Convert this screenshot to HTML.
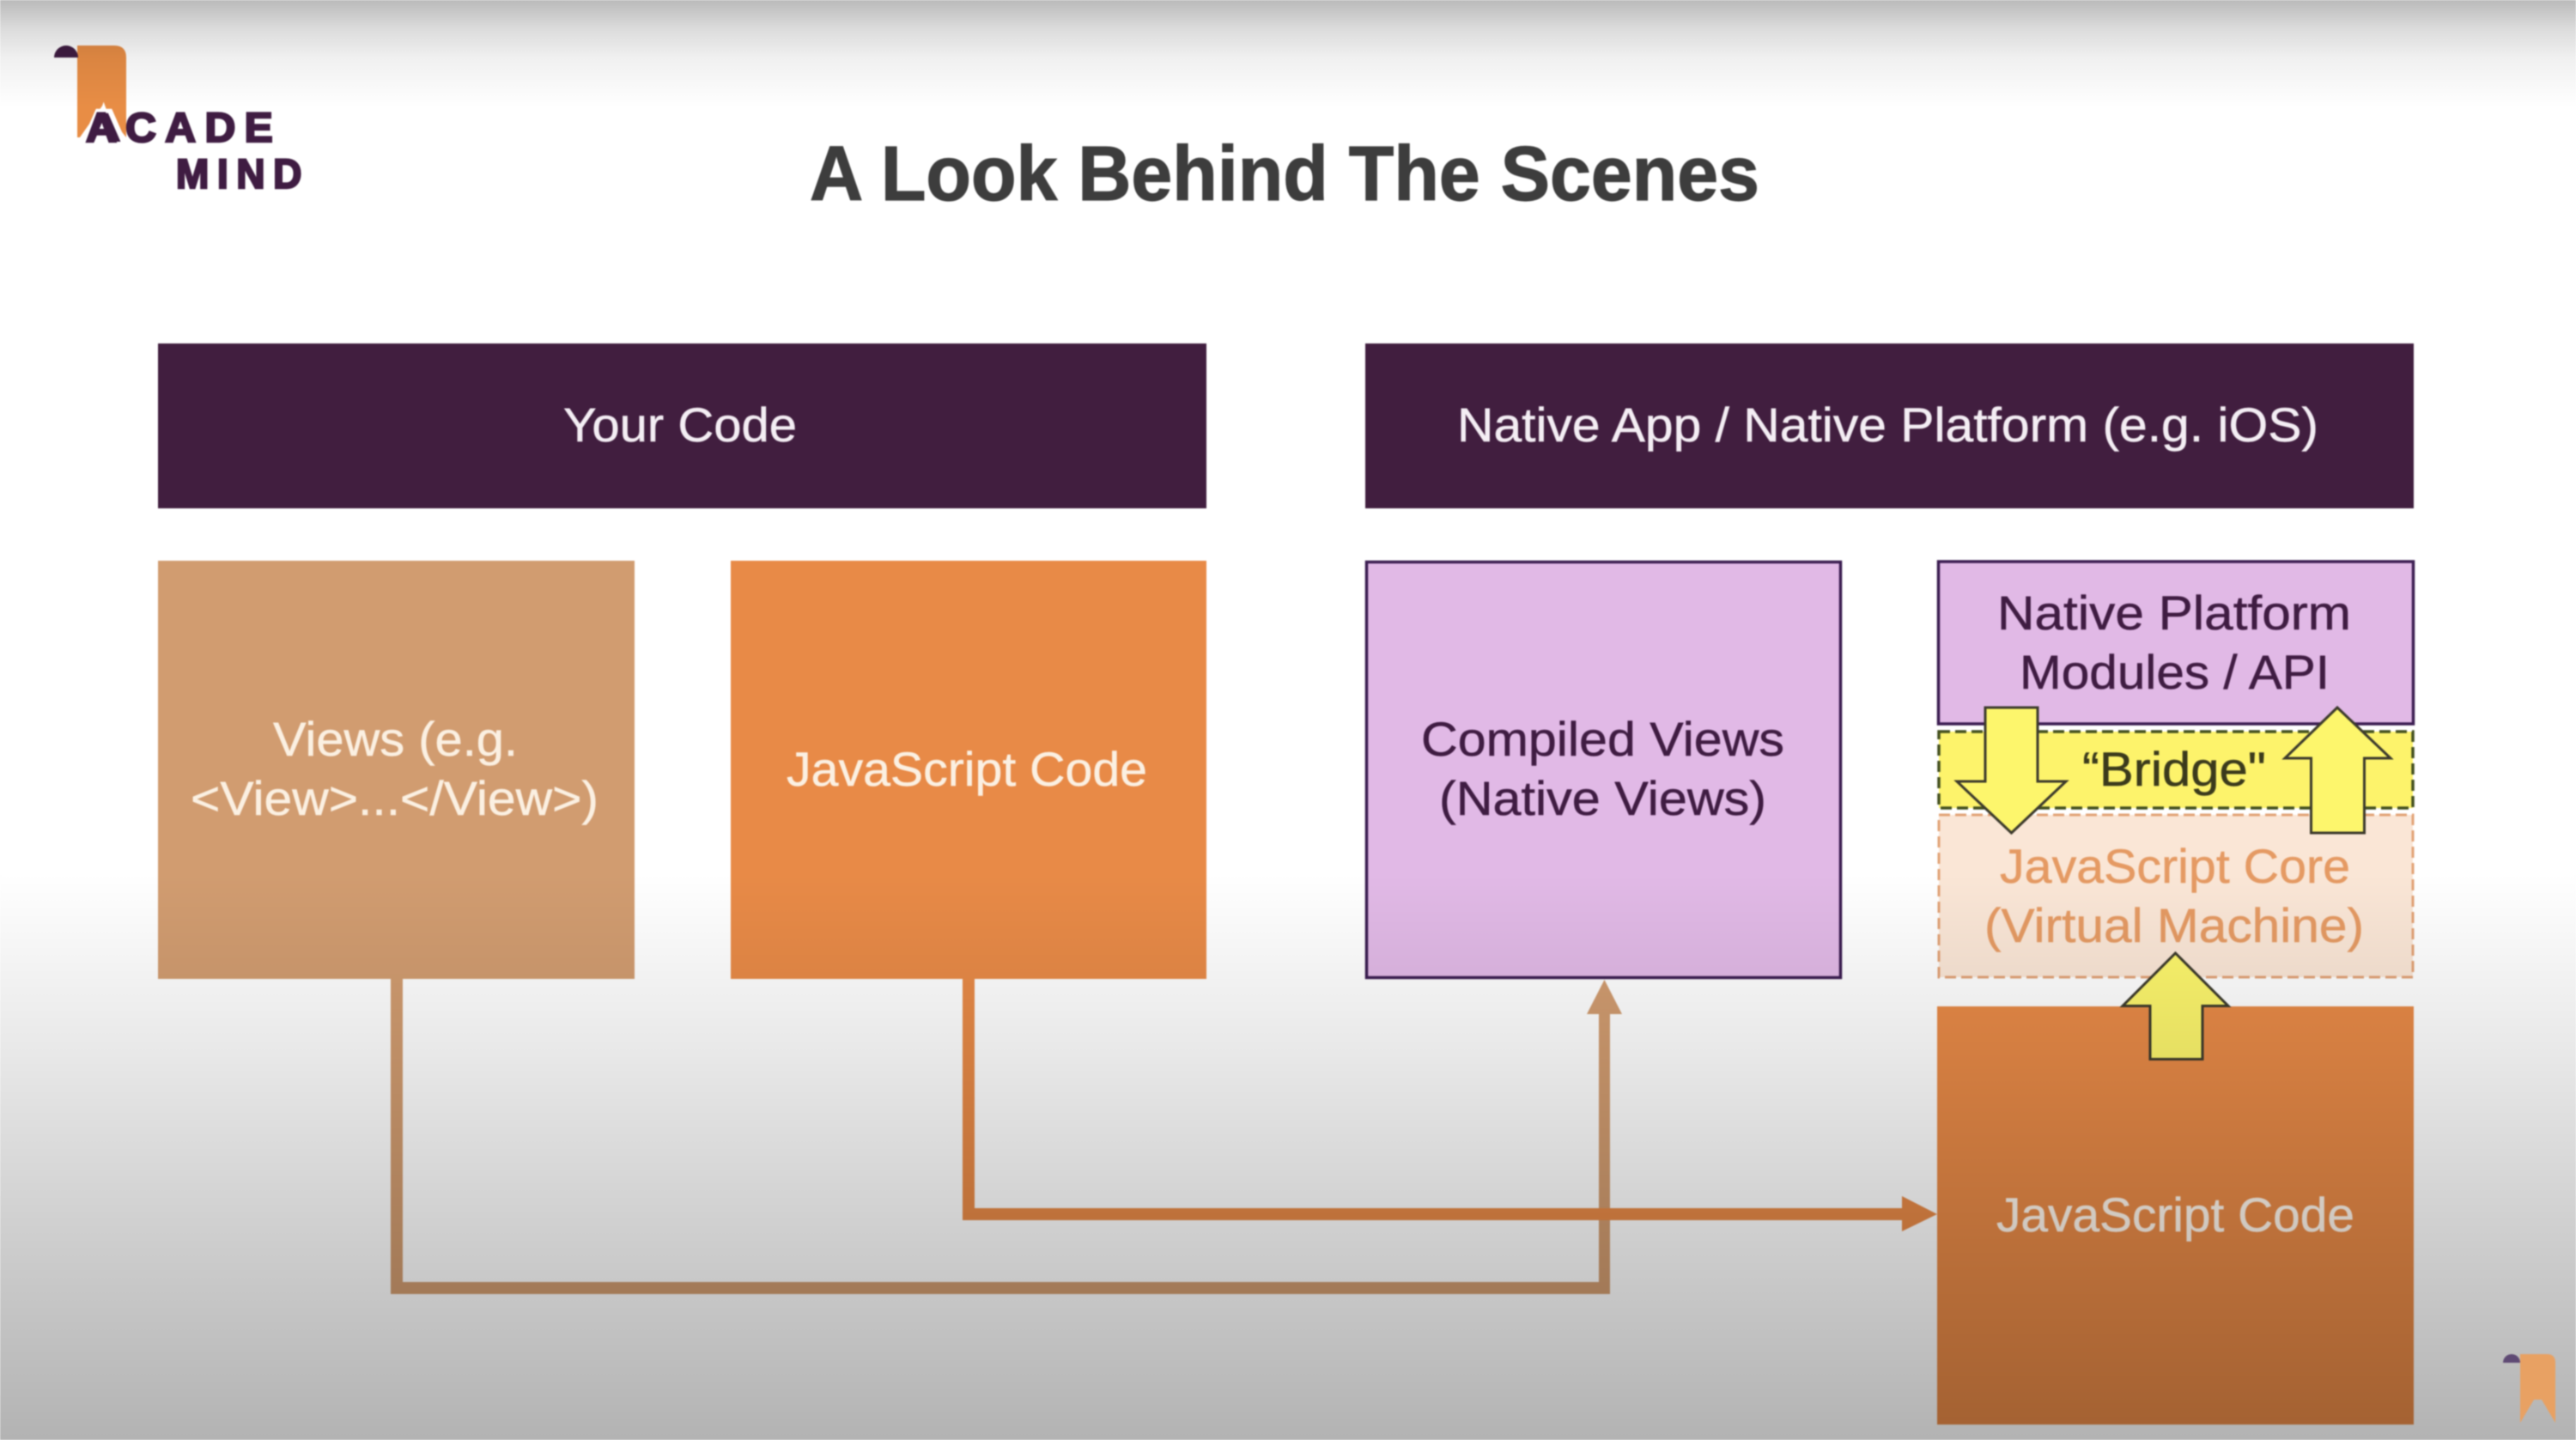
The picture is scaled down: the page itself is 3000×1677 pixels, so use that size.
<!DOCTYPE html>
<html><head><meta charset="utf-8"><title>A Look Behind The Scenes</title>
<style>
html,body{margin:0;padding:0;background:#fff;width:3000px;height:1677px;overflow:hidden}
svg{display:block;filter:blur(.7px)}
text{font-family:"Liberation Sans",sans-serif;font-size:56px;text-anchor:start;stroke-width:.5px;stroke:currentColor}
</style></head><body>
<svg xmlns="http://www.w3.org/2000/svg" width="3000" height="1677" viewBox="0 0 3000 1677">
<defs>
<linearGradient id="ov" x1="0" y1="0" x2="0" y2="1677" gradientUnits="userSpaceOnUse">
<stop offset="0" stop-color="#000" stop-opacity=".27"/>
<stop offset=".02" stop-color="#000" stop-opacity=".14"/>
<stop offset=".04" stop-color="#000" stop-opacity=".06"/>
<stop offset=".075" stop-color="#000" stop-opacity="0"/>
<stop offset=".605" stop-color="#000" stop-opacity="0"/>
<stop offset=".73" stop-color="#000" stop-opacity=".09"/>
<stop offset=".855" stop-color="#000" stop-opacity=".19"/>
<stop offset="1" stop-color="#000" stop-opacity=".3"/>
</linearGradient>
</defs>
<rect width="3000" height="1677" fill="#fff"/>

<!-- logo -->
<path d="M90 53H133Q147 53 147 67V160L139 150L120 122L100 150L93 160L90 160Z" fill="#e88d45"/>
<path d="M63 67A14 14 0 0 1 91 67Z" fill="#3f1c42"/>
<text x="100" y="165" textLength="42" lengthAdjust="spacingAndGlyphs" style="font-size:48px;font-weight:bold;stroke:#fff;stroke-width:10px;paint-order:stroke;color:#3f1c42" fill="#3f1c42">A</text>
<text x="100" y="165" textLength="228" lengthAdjust="spacingAndGlyphs" style="font-size:48px;font-weight:bold;letter-spacing:10px;stroke:#3f1c42;stroke-width:2.5px" fill="#3f1c42">ACADE</text>
<text x="205" y="219" textLength="156" lengthAdjust="spacingAndGlyphs" style="font-size:48px;font-weight:bold;letter-spacing:10px;stroke:#3f1c42;stroke-width:2.5px" fill="#3f1c42">MIND</text>

<!-- title -->
<text x="943" y="233" textLength="1106" lengthAdjust="spacingAndGlyphs" style="font-size:90px;font-weight:bold;stroke:#3d3d3d;stroke-width:1.2px" fill="#3d3d3d">A Look Behind The Scenes</text>

<!-- headers -->
<rect x="184" y="400" width="1221" height="192" fill="#411e3f"/>
<rect x="1590" y="400" width="1221" height="192" fill="#411e3f"/>
<text x="656" y="514" textLength="272" lengthAdjust="spacingAndGlyphs" fill="#f4eef4" color="#f4eef4">Your Code</text>
<text x="1697" y="514" textLength="1003" lengthAdjust="spacingAndGlyphs" fill="#f4eef4" color="#f4eef4">Native App / Native Platform (e.g. iOS)</text>

<!-- left boxes -->
<rect x="184" y="653" width="555" height="487" fill="#d19c70"/>
<rect x="851" y="653" width="554" height="487" fill="#e88a47"/>
<text x="318" y="880" textLength="285" lengthAdjust="spacingAndGlyphs" fill="#fbf0e2" color="#fbf0e2">Views (e.g.</text>
<text x="222" y="949" textLength="475" lengthAdjust="spacingAndGlyphs" fill="#fbf0e2" color="#fbf0e2">&lt;View&gt;...&lt;/View&gt;)</text>
<text x="916" y="915" textLength="420" lengthAdjust="spacingAndGlyphs" fill="#fbf0e2" color="#fbf0e2">JavaScript Code</text>

<!-- compiled -->
<rect x="1591.5" y="654.5" width="552" height="484" fill="#e1b9e6" stroke="#3c1e52" stroke-width="3.5"/>
<text x="1655" y="880" textLength="423" lengthAdjust="spacingAndGlyphs" fill="#3f1c42" color="#3f1c42">Compiled Views</text>
<text x="1676" y="949" textLength="381" lengthAdjust="spacingAndGlyphs" fill="#3f1c42" color="#3f1c42">(Native Views)</text>

<!-- right stack -->
<rect x="2257.5" y="654" width="553" height="189" fill="#e1b9e6" stroke="#3c1e52" stroke-width="3.5"/>
<rect x="2258" y="852" width="552" height="89" fill="#fdf36b" stroke="#44501f" stroke-width="3.5" stroke-dasharray="13 6"/>
<rect x="2258" y="949" width="552" height="189" fill="#fae6d6" stroke="#e2a377" stroke-width="3" stroke-dasharray="13 6"/>
<rect x="2256" y="1172" width="555" height="487" fill="#e88a47"/>

<text x="2326" y="733" textLength="412" lengthAdjust="spacingAndGlyphs" fill="#3f1c42" color="#3f1c42">Native Platform</text>
<text x="2352" y="802" textLength="361" lengthAdjust="spacingAndGlyphs" fill="#3f1c42" color="#3f1c42">Modules / API</text>
<text x="2425" y="915" textLength="214" lengthAdjust="spacingAndGlyphs" fill="#3b3a1c" color="#3b3a1c">“Bridge"</text>
<text x="2329" y="1028" textLength="408" lengthAdjust="spacingAndGlyphs" fill="#e59a63" color="#e59a63">JavaScript Core</text>
<text x="2311" y="1097" textLength="442" lengthAdjust="spacingAndGlyphs" fill="#e59a63" color="#e59a63">(Virtual Machine)</text>
<text x="2325" y="1434" textLength="417" lengthAdjust="spacingAndGlyphs" fill="#fff6ec" color="#fff6ec">JavaScript Code</text>

<!-- block arrows -->
<g fill="#fdf66c" stroke="#3c3a2c" stroke-width="3" stroke-linejoin="miter">
<path d="M2312 824H2373V910H2406L2342.5 970L2279 910H2312Z"/>
<path d="M2722 824L2784 883H2753.5V970H2691.5V883H2661Z"/>
<path d="M2533.5 1110L2595 1171.5H2565V1233.5H2504V1171.5H2472Z"/>
</g>

<!-- connectors -->
<g fill="#d19c70">
<path d="M455 1140H469V1493H1862V1181H1848L1868.5 1141L1889 1181H1875V1507H455Z"/>
</g>
<g fill="#e88a47">
<path d="M1121 1140H1135V1407H2215V1393L2256 1414L2215 1434V1421H1121Z"/>
</g>

<!-- video vignette -->
<rect width="3000" height="1677" fill="url(#ov)"/>

<!-- watermark -->
<path d="M2935 1577H2966Q2976 1577 2976 1587V1657L2960 1630H2951L2935 1657Z" fill="#e8a163"/>
<path d="M2915 1587A10 10 0 0 1 2935 1587Z" fill="#5f4a74"/>
</svg>
</body></html>
